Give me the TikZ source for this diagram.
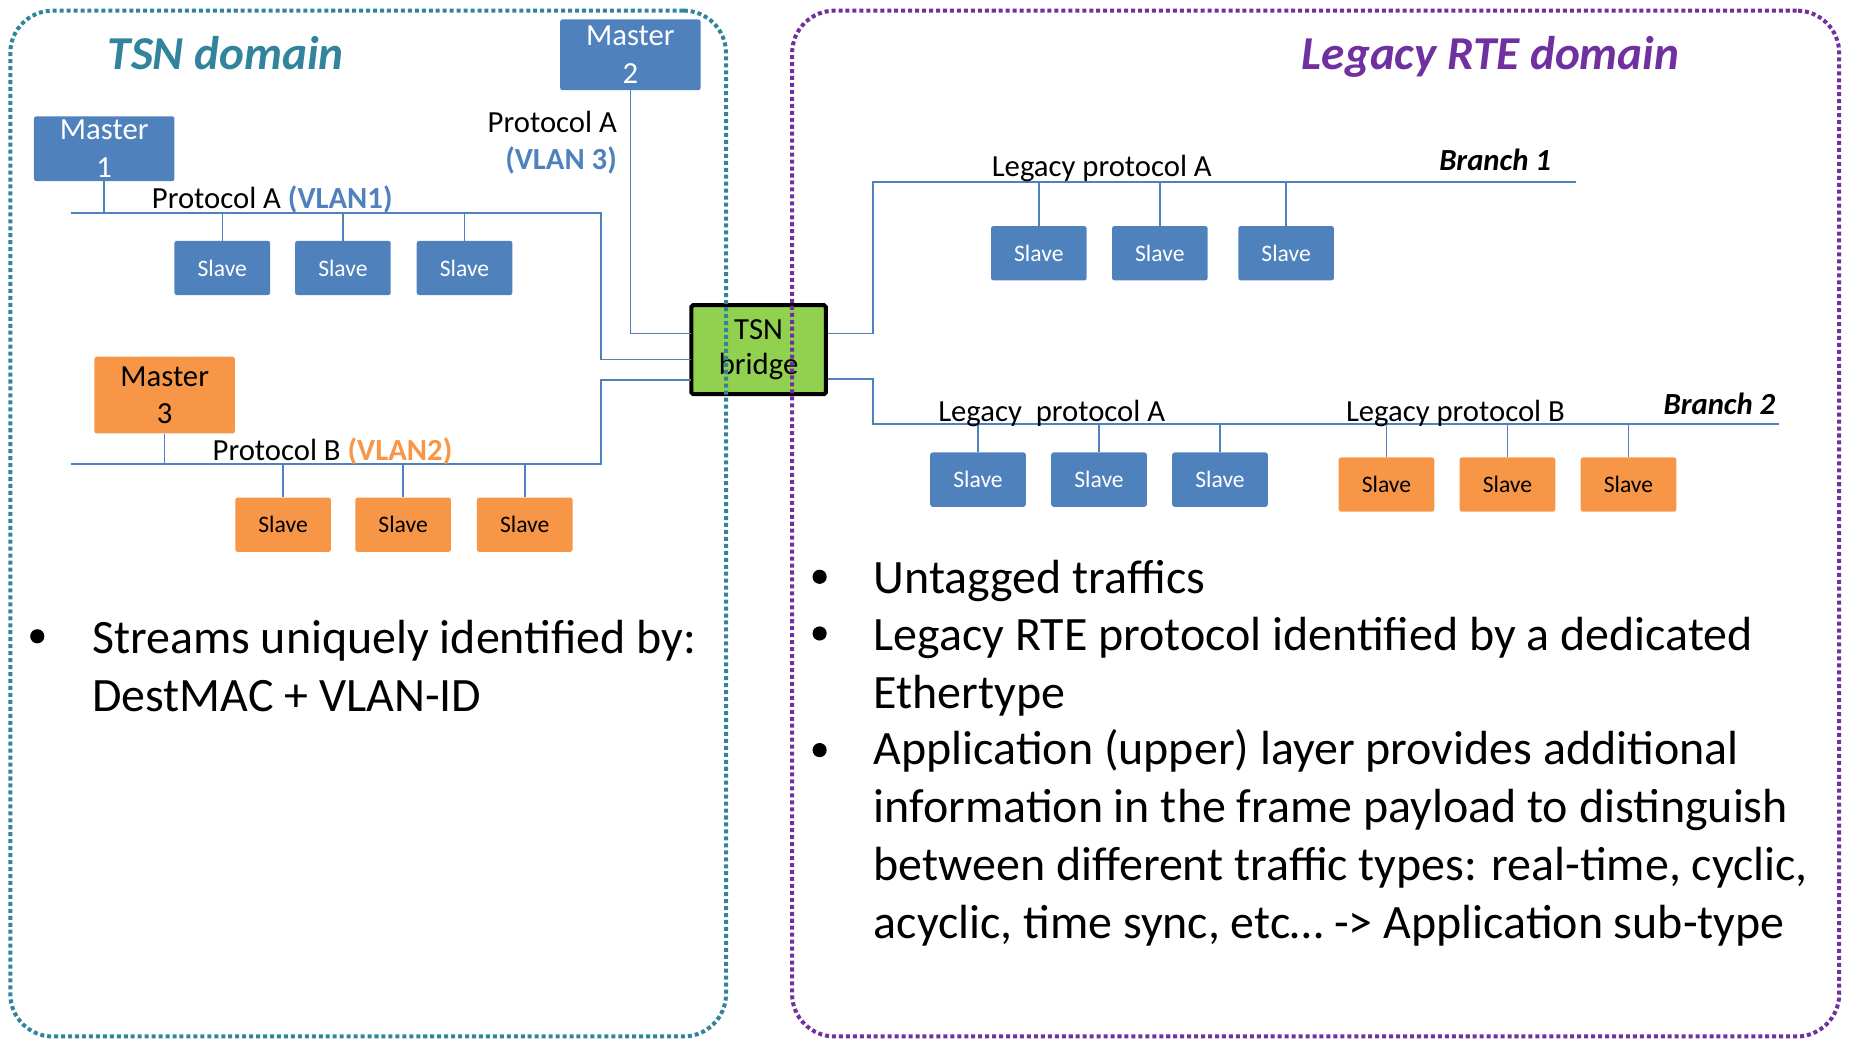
\documentclass[tikz,border=0pt]{standalone}
\usepackage{fontspec}
\setmainfont{Carlito}
\usepackage{xcolor}
\usepackage{tikz}

\definecolor{tsnteal}{HTML}{31849B}
\definecolor{rtepurple}{HTML}{7030A0}
\definecolor{ofblue}{HTML}{4F81BD}
\definecolor{oforange}{HTML}{F79646}
\definecolor{brgreen}{HTML}{92D050}

\begin{document}
\begin{tikzpicture}[x=1pt,y=-1pt,
    box/.style={shape=rectangle,rounded corners=2pt,inner sep=0pt,align=center},
    bluebox/.style={box,fill=ofblue,text=white},
    orangebox/.style={box,fill=oforange,text=black},
    master/.style={minimum width=119pt,font=\fontsize{26}{31.7}\selectfont},
    slave/.style={minimum width=81pt,minimum height=46pt,font=\fontsize{20}{24}\selectfont},
    bus/.style={draw=ofblue,line width=1.3pt},
    proto/.style={inner sep=0pt,font=\fontsize{26}{31.7}\selectfont},
    branch/.style={inner sep=0pt,font=\fontsize{26}{31.7}\selectfont\bfseries\itshape},
    domtitle/.style={inner sep=0pt,font=\fontsize{40}{48}\selectfont\bfseries\itshape},
    bullettext/.style={inner sep=0pt,align=left,font=\fontsize{40.6}{49}\selectfont},
    bulletdot/.style={shape=circle,fill=black,inner sep=0pt,minimum size=12pt},
    domainbox/.style={shape=rectangle,rounded corners=36pt,line width=3.4pt,dash pattern=on 3.4pt off 2.5pt}]
    \useasboundingbox (0,0) rectangle (1568,881);

    \node[domtitle,text=tsnteal,anchor=base west] (tsntitle) at (91,59) {TSN domain};
    \node[domtitle,text=rtepurple,anchor=base west] (rtetitle) at (1102.7,59) {Legacy RTE domain};

    \node[bluebox,master,minimum height=60pt] (m2) at (534,46.4) {Master\\2};
    \node[bluebox,master,minimum height=55pt] (m1) at (88.3,126) {Master\\1};
    \node[orangebox,master,minimum height=65pt] (m3) at (139.5,334.7) {Master\\3};

    \node[shape=rectangle,rounded corners=1.5pt,draw=black,fill=brgreen,line width=3.4pt,inner sep=0pt,align=center,
        minimum width=114pt,minimum height=75.3pt,font=\fontsize{26}{29}\selectfont] (bridge) at (642.6,296.2) {TSN\\bridge};

    \node[bluebox,slave] (s11) at (188.3,227) {Slave};
    \node[bluebox,slave] (s12) at (290.5,227) {Slave};
    \node[bluebox,slave] (s13) at (393.5,227) {Slave};
    \node[orangebox,slave] (s21) at (239.8,444.5) {Slave};
    \node[orangebox,slave] (s22) at (341.5,444.5) {Slave};
    \node[orangebox,slave] (s23) at (444.5,444.5) {Slave};
    \node[bluebox,slave] (s31) at (880,214.5) {Slave};
    \node[bluebox,slave] (s32) at (982.5,214.5) {Slave};
    \node[bluebox,slave] (s33) at (1089.5,214.5) {Slave};
    \node[bluebox,slave] (s41) at (828.5,406.3) {Slave};
    \node[bluebox,slave] (s42) at (931,406.3) {Slave};
    \node[bluebox,slave] (s43) at (1033.5,406.3) {Slave};
    \node[orangebox,slave] (s51) at (1174.5,410.5) {Slave};
    \node[orangebox,slave] (s52) at (1277,410.5) {Slave};
    \node[orangebox,slave] (s53) at (1379.5,410.5) {Slave};

    \coordinate (bus1w) at (60.4,180.6);
    \coordinate (bus1e) at (509,180.6);
    \coordinate (bus2w) at (60.4,393);
    \coordinate (bus2e) at (509,393);
    \coordinate (br1w) at (739.5,154);
    \coordinate (br1e) at (1334.8,154);
    \coordinate (br2w) at (739.5,359.3);
    \coordinate (br2e) at (1507,359.3);
    \coordinate (p1) at (585,282.6);
    \coordinate (p2) at (585,304.6);
    \coordinate (p3) at (585,322);
    \coordinate (p4) at (701,282.6);
    \coordinate (p5) at (701,321);

    \draw[bus] (m2) -- (m2 |- p1) -- (p1);
    \draw[bus] (bus1w) -- (bus1e) |- (p2);
    \draw[bus] (bus2w) -- (bus2e) |- (p3);
    \draw[bus] (p4) -| (br1w) -- (br1e);
    \draw[bus] (p5) -| (br2w) -- (br2e);
    \draw[bus] (m1) -- (m1 |- bus1w);
    \draw[bus] (m3) -- (m3 |- bus2w);
    \draw[bus] (s11) -- (s11 |- bus1w);
    \draw[bus] (s12) -- (s12 |- bus1w);
    \draw[bus] (s13) -- (s13 |- bus1w);
    \draw[bus] (s21) -- (s21 |- bus2w);
    \draw[bus] (s22) -- (s22 |- bus2w);
    \draw[bus] (s23) -- (s23 |- bus2w);
    \draw[bus] (s31) -- (s31 |- br1w);
    \draw[bus] (s32) -- (s32 |- br1w);
    \draw[bus] (s33) -- (s33 |- br1w);
    \draw[bus] (s41) -- (s41 |- br2w);
    \draw[bus] (s42) -- (s42 |- br2w);
    \draw[bus] (s43) -- (s43 |- br2w);
    \draw[bus] (s51) -- (s51 |- br2w);
    \draw[bus] (s52) -- (s52 |- br2w);
    \draw[bus] (s53) -- (s53 |- br2w);

    \node[proto,anchor=base west] (lblvlan1) at (128.5,177) {Protocol A \textcolor{ofblue}{\bfseries(VLAN1)}};
    \node[proto,anchor=base west] (lblvlan2) at (180,389.7) {Protocol B \textcolor{oforange}{\bfseries(VLAN2)}};
    \node[proto,align=right,anchor=base east] (lblvlan3) at (522.7,143.7) {Protocol A\\\textcolor{ofblue}{\bfseries(VLAN 3)}};
    \node[proto,anchor=base west] (lbllegA1) at (840,149.8) {Legacy protocol A};
    \node[proto,anchor=base west] (lbllegA2) at (794.6,357) {Legacy~~protocol A};
    \node[proto,anchor=base west] (lbllegB2) at (1140,357) {Legacy protocol B};
    \node[branch,anchor=base west] (lblbr1) at (1219,144.6) {Branch 1};
    \node[branch,anchor=base west] (lblbr2) at (1409,350.9) {Branch 2};

    \node[bulletdot] (d1) at (31.6,539) {};
    \node[bullettext,anchor=base west] (t1) at (77.8,602.5) {Streams uniquely identified by:\\DestMAC + VLAN-ID};
    \node[bulletdot] (d2) at (694.3,488.6) {};
    \node[bullettext,anchor=base west] (t2) at (740,502.6) {Untagged traffics};
    \node[bulletdot] (d3) at (694.3,536.6) {};
    \node[bullettext,anchor=base west] (t3) at (740,599.8) {Legacy RTE protocol identified by a dedicated\\Ethertype};
    \node[bulletdot] (d4) at (694.3,635.4) {};
    \node[bullettext,anchor=base west] (t4) at (740,795) {Application (upper) layer provides additional\\information in the frame payload to distinguish\\between different traffic types: real-time, cyclic,\\acyclic, time sync, etc… -> Application sub-type};

    \node[domainbox,draw=tsnteal,minimum width=606.3pt,minimum height=869pt] (tsndom) at (311.85,443.5) {};
    \node[domainbox,draw=rtepurple,minimum width=887pt,minimum height=869pt] (rtedom) at (1114.5,443.5) {};
\end{tikzpicture}
\end{document}
